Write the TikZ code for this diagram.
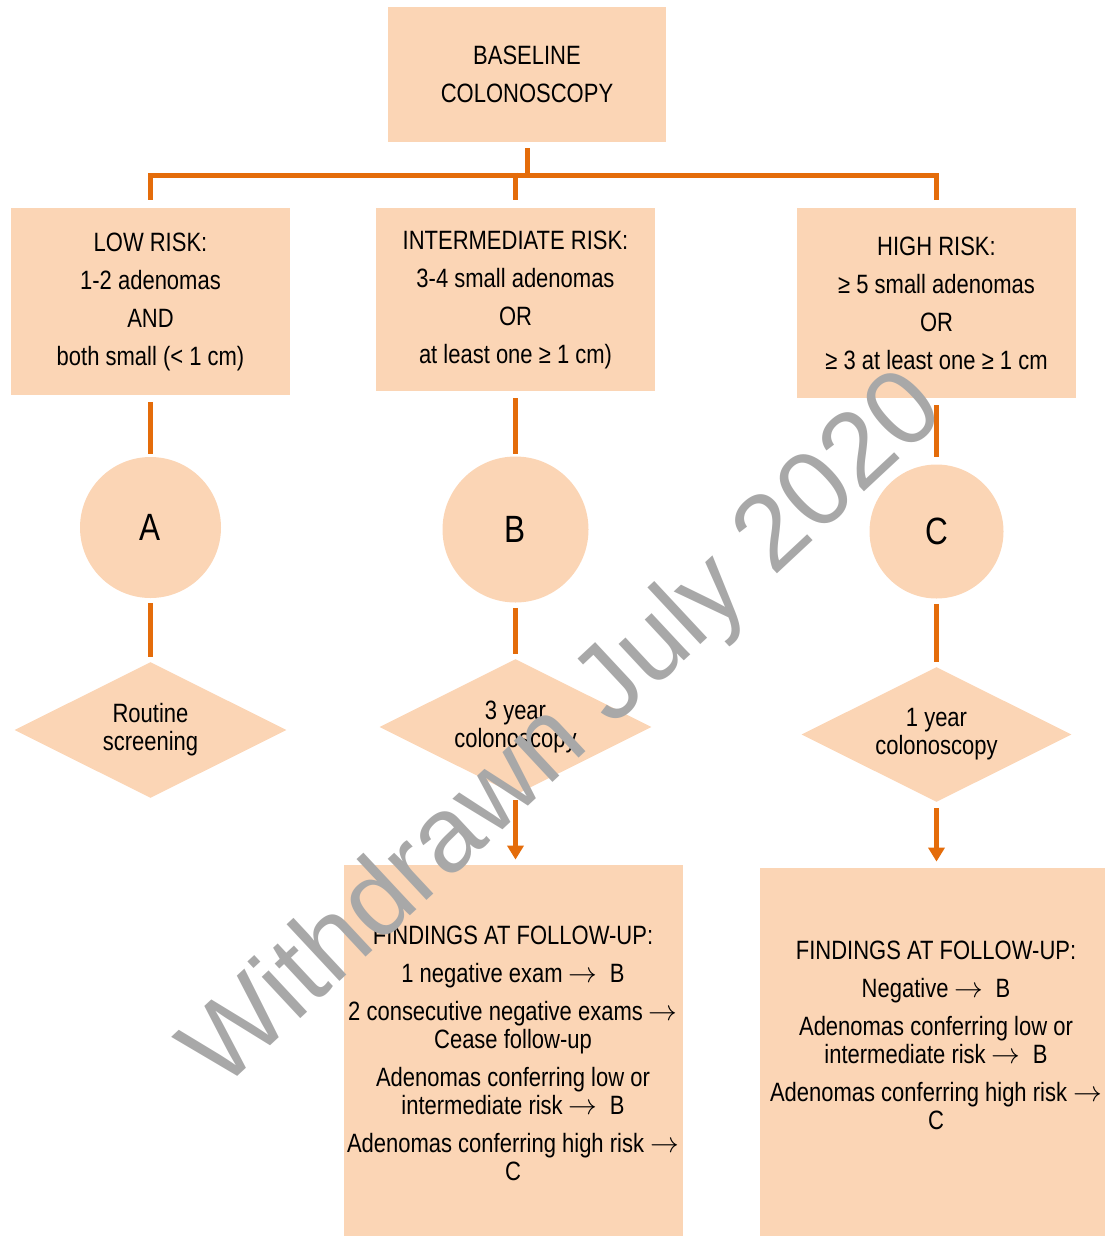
\documentclass[tikz,border=0pt]{standalone}
\usepackage{fontspec}
\setmainfont{Liberation Sans}[FakeStretch=0.83]
\newfontfamily\markfont{Liberation Sans}
\usetikzlibrary{shapes.geometric,arrows.meta}
\definecolor{peach}{HTML}{FBD5B5}
\definecolor{rust}{HTML}{E46C0A}
\definecolor{stampgray}{HTML}{A8A8A8}

\begin{document}
\begin{tikzpicture}[x=0.5pt,y=-0.5pt]
\tikzstyle{every node}+=[inner sep=0pt]
\tikzstyle{box}=[fill=peach, align=center, font=\fontsize{13.25}{19}\selectfont]
\tikzstyle{disc}=[circle, fill=peach, font=\fontsize{19}{22}\selectfont]
\tikzstyle{choice}=[diamond, aspect=2, fill=peach, align=center, font=\fontsize{13.25}{14}\selectfont]
\tikzstyle{notes}=[align=center, font=\fontsize{13.25}{14}\selectfont]
\tikzstyle{link}=[rust, line width=2.5pt, shorten <=2.5pt, shorten >=2.5pt]
\tikzstyle{next}=[link, -{Triangle[width=8pt,length=7pt]}]
\useasboundingbox (0,0) rectangle (1105,1236);
\node [box, minimum width=139pt, minimum height=67.5pt] (base) at (527,74.5) {BASELINE\\COLONOSCOPY};
\node [box, minimum width=139.5pt, minimum height=93.5pt] (low) at (150.5,301.5) {LOW RISK:\\1-2 adenomas\\AND\\both small (< 1 cm)};
\node [box, minimum width=139.5pt, minimum height=91.5pt] (mid) at (515.5,299.5) {INTERMEDIATE RISK:\\3-4 small adenomas\\OR\\at least one ≥ 1 cm)};
\node [box, minimum width=139.5pt, minimum height=95pt] (high) at (936.5,303) {HIGH RISK:\\≥ 5 small adenomas\\OR\\≥ 3 at least one ≥ 1 cm};
\node [disc, minimum size=70.5pt] (A) at (150.5,527.5) {A};
\node [disc, minimum size=73pt] (B) at (515.5,529.5) {B};
\node [disc, minimum size=67pt] (C) at (936.5,531.5) {C};
\node [choice, minimum width=136pt, minimum height=68pt] (routine) at (150.5,730) {Routine\\screening};
\node [choice, minimum width=136pt, minimum height=68pt] (three) at (515.5,727) {3 year\\colonoscopy};
\node [choice, minimum width=135pt, minimum height=67.5pt] (one) at (936.5,734.5) {1 year\\colonoscopy};
\node [fill=peach, minimum width=169.5pt, minimum height=185.5pt] (fuB) at (513.5,1050.5) {};
\node [fill=peach, minimum width=172.5pt, minimum height=184pt] (fuC) at (932.5,1052) {};
\node [notes] (fuBtext) at (513,1053) {FINDINGS AT FOLLOW-UP:\\[5pt]1 negative exam $\rightarrow$\ \ B\\[5pt]2 consecutive negative exams $\rightarrow$\\Cease follow-up\\[5pt]Adenomas conferring low or\\intermediate risk $\rightarrow$\ \ B\\[5pt]Adenomas conferring high risk $\rightarrow$\\C};
\node [notes] (fuCtext) at (936,1035) {FINDINGS AT FOLLOW-UP:\\[5pt]Negative $\rightarrow$\ \ B\\[5pt]Adenomas conferring low or\\intermediate risk $\rightarrow$\ \ B\\[5pt]Adenomas conferring high risk $\rightarrow$\\C};
\coordinate (hub) at (527,175);
\draw [link, shorten <=3pt, shorten >=-1.25pt] (base.south) -- (hub);
\draw [link, shorten <=4pt, shorten >=4pt] (low.north) -- (low.north |- hub) -- (high.north |- hub) -- (high.north);
\draw [link, shorten <=-1.25pt, shorten >=4pt] (mid.north |- hub) -- (mid.north);
\draw [link, shorten <=3.5pt, shorten >=1.5pt] (low.south) -- (A.north);
\draw [link, shorten <=3.5pt, shorten >=1pt] (mid.south) -- (B.north);
\draw [link, shorten <=3.5pt, shorten >=3.5pt] (high.south) -- (C.north);
\draw [link] (A.south) -- (routine.north);
\draw [link] (B.south) -- (three.north);
\draw [link] (C.south) -- (one.north);
\draw [next] (three.south) -- (three.south |- fuB.north);
\draw [next, shorten <=3pt, shorten >=3pt] (one.south) -- (one.south |- fuC.north);
\node [text=stampgray, rotate=43, font=\markfont\fontsize{53.5}{60}\selectfont] (mark) at (566,733) {Withdrawn July 2020};
\end{tikzpicture}
\end{document}
